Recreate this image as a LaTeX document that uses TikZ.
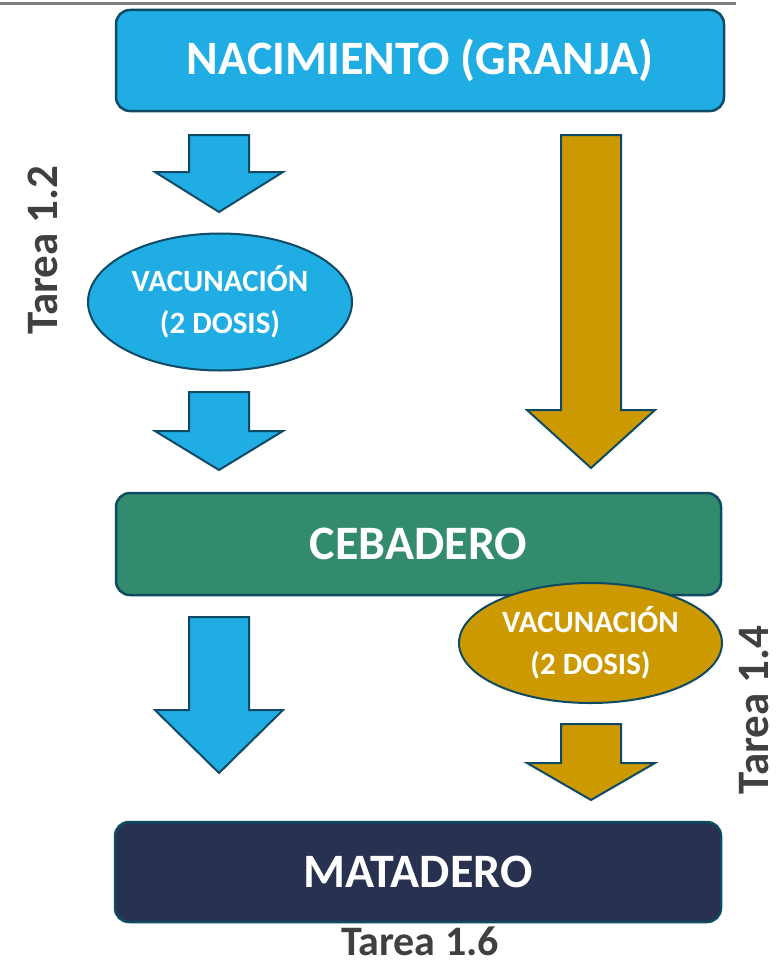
\documentclass[tikz,border=0pt]{standalone}
\usepackage{fontspec}
\setmainfont{Carlito}
\usepackage{xcolor}
\usepackage{tikz}
\usetikzlibrary{shapes.geometric}
\usetikzlibrary{positioning}

\definecolor{azul}{HTML}{1FADE4}
\definecolor{oro}{HTML}{CC9900}
\definecolor{verde}{HTML}{338B6E}
\definecolor{marino}{HTML}{283250}
\definecolor{borde}{HTML}{0E4A63}
\definecolor{gris}{HTML}{404040}

% Flecha gruesa: color, x centro, y arriba, y hombro, y punta
\newcommand{\flecha}[5]{%
  \filldraw[fill=#1, draw=borde, line width=2pt, line join=miter]
    (#2-30,#3) -- (#2+30,#3) -- (#2+30,#4) -- (#2+64,#4) -- (#2,#5)
    -- (#2-64,#4) -- (#2-30,#4) -- cycle;}

\tikzset{
  caja/.style={draw=borde, line width=2.5pt, rounded corners=14pt,
    text=white, font=\fontsize{48}{56}\selectfont\bfseries},
  vacuna/.style={ellipse, draw=borde, line width=2pt, text=white, align=center,
    inner sep=0pt, font=\fontsize{31}{42}\selectfont\bfseries},
  tarea/.style={text=gris, inner sep=0pt, font=\fontsize{45}{50}\selectfont\bfseries}
}

\begin{document}
\begin{tikzpicture}[x=1pt, y=-1pt]
  \useasboundingbox (0,0) rectangle (781,966);
  % Linea gris de arriba
  \draw[gray, line width=3pt] (0,4) -- (736,4);

  % Cajas principales
  \node[caja, fill=azul, minimum width=608pt, minimum height=101pt] (nac) at (420,60.5) {NACIMIENTO (GRANJA)};
  \node[caja, fill=verde, minimum width=605pt, minimum height=102pt] (ceb) at (418.5,544) {CEBADERO};
  \node[caja, fill=marino, minimum width=606pt, minimum height=100pt] (mat) at (418,872) {MATADERO};

  % Flechas de la izquierda
  \flecha{azul}{219}{135}{172}{212}
  \flecha{azul}{219}{392}{431}{470}
  \flecha{azul}{219}{617}{710}{773}
  % Flechas de la derecha
  \flecha{oro}{591}{135}{410}{468}
  \flecha{oro}{591}{724}{763}{800}

  % Vacunaciones
  \node[vacuna, fill=azul, minimum width=264pt, minimum height=137pt] (vac1) at (220,302) {VACUNACIÓN\\(2 DOSIS)};
  \node[vacuna, fill=oro, minimum width=263pt, minimum height=120pt] (vac2) at (590.5,643) {VACUNACIÓN\\(2 DOSIS)};

  % Tareas
  \node[tarea, rotate=90] (t12) at (43,250) {Tarea 1.2};
  \node[tarea, rotate=90] (t14) at (754,710) {Tarea 1.4};
  \node[tarea, anchor=base, font=\fontsize{42}{46}\selectfont\bfseries] (t16) at (420,955) {Tarea 1.6};
\end{tikzpicture}
\end{document}
